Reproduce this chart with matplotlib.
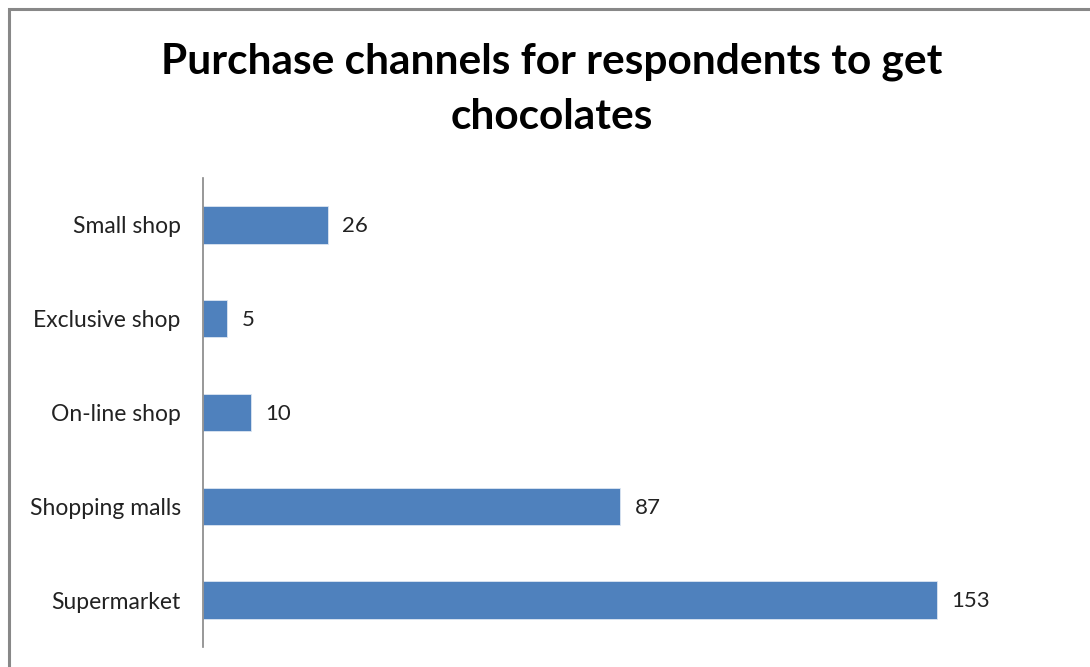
import matplotlib.pyplot as plt
from matplotlib.patches import Rectangle

channels = ['Supermarket', 'Shopping malls', 'On-line shop', 'Exclusive shop', 'Small shop']
respondents = [153, 87, 10, 5, 26]

plt.rcParams['font.family'] = ['Lato', 'DejaVu Sans']

fig = plt.figure(figsize=(10.9, 6.67), dpi=100)
ax = fig.add_axes([0.1862, 0.030, 0.7918, 0.7031])

bar_color = '#4f81bd'
ax.barh(range(len(channels)), respondents, height=0.4, color=bar_color,
        edgecolor='#dce6f2', linewidth=0.6)

for i, v in enumerate(respondents):
    ax.annotate(str(v), (v, i), xytext=(10.5, -1), textcoords='offset points',
                va='center', ha='left', fontsize=16, color='#222222')

ax.set_xlim(0, 180)
ax.set_ylim(-0.5, len(channels) - 0.5)
ax.set_yticks(range(len(channels)))
ax.set_yticklabels(channels, fontsize=16.5, color='#222222')
ax.tick_params(axis='y', length=0, pad=16)
ax.set_xticks([])
for side in ['top', 'right', 'bottom']:
    ax.spines[side].set_visible(False)
ax.spines['left'].set_color('#868686')
ax.spines['left'].set_linewidth(1.2)

fig.text(0.506, 0.866, 'Purchase channels for respondents to get\nchocolates',
         ha='center', va='center', fontsize=30.5, fontweight='bold',
         linespacing=1.56, color='black')

# chart-area frame, running off the right and bottom edges
fig.patches.append(Rectangle((9 / 1090, -0.1), 1.2, 0.1 + (667 - 9) / 667,
                             transform=fig.transFigure, fill=False,
                             edgecolor='#888888', linewidth=2.2))

fig.savefig('out.png', dpi=100)
